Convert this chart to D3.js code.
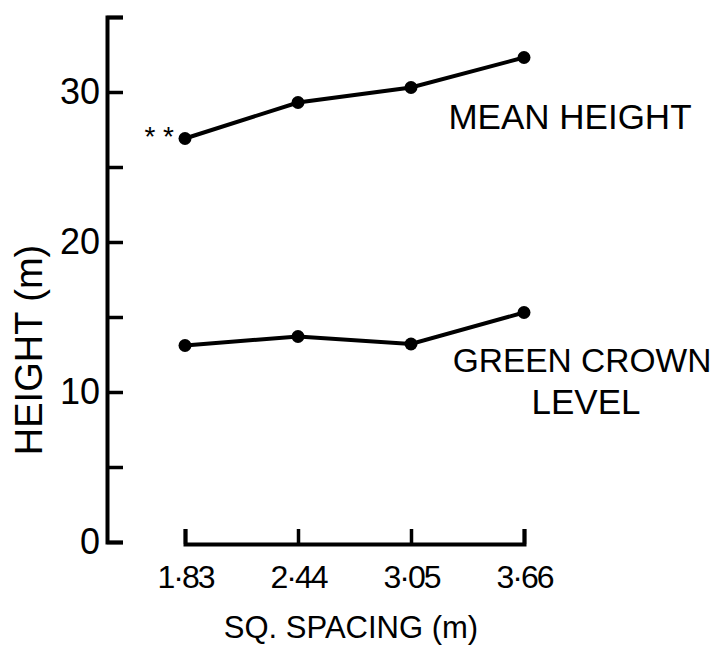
<!DOCTYPE html>
<html><head><meta charset="utf-8">
<script src="https://cdnjs.cloudflare.com/ajax/libs/d3/7.8.5/d3.min.js"></script>
<style>
body{margin:0;background:#fff;}
svg{display:block;font-family:"Liberation Sans",Arial,sans-serif;}
</style></head>
<body>
<script>
const spacings = [1.83, 2.44, 3.05, 3.66];
const spacingLabels = ["1·83", "2·44", "3·05", "3·66"];
const meanHeight = [26.9, 29.3, 30.3, 32.3];
const greenCrown = [13.1, 13.7, 13.2, 15.3];
const yTicks = [0, 5, 10, 15, 20, 25, 30, 35];
const yLabelTicks = [0, 10, 20, 30];

const W = 718, H = 646;
const svg = d3.select("body").append("svg").attr("width", W).attr("height", H);

const x = d3.scaleLinear().domain([1.83, 3.66]).range([185, 524]);
const y = d3.scaleLinear().domain([0, 35]).range([542, 17]);

// Y axis
const yAxis = d3.axisLeft(y).tickValues(yTicks).tickSizeInner(-16).tickSizeOuter(-16).tickPadding(7)
  .tickFormat(d => yLabelTicks.includes(d) ? d3.format("d")(d) : "");
const gy = svg.append("g").attr("transform", "translate(107,0)").call(yAxis);
gy.select(".domain").attr("stroke", "#000").attr("stroke-width", 4).attr("fill", "none");
gy.selectAll(".tick line").attr("stroke", "#000").attr("stroke-width", 3.5);
gy.selectAll(".tick text").attr("font-size", 36).attr("fill", "#000").attr("font-family", "Liberation Sans, Arial, sans-serif");

// X axis
const xAxis = d3.axisBottom(x).tickValues(spacings).tickSizeInner(-15).tickSizeOuter(-15).tickPadding(21)
  .tickFormat((d, i) => spacingLabels[i]);
const gx = svg.append("g").attr("transform", "translate(0,544)").call(xAxis);
gx.select(".domain").attr("stroke", "#000").attr("stroke-width", 4).attr("fill", "none");
gx.selectAll(".tick line").attr("stroke", "#000").attr("stroke-width", 3.5);
gx.selectAll(".tick text").attr("font-size", 32).attr("fill", "#000").attr("letter-spacing", -2)
  .attr("font-family", "Liberation Sans, Arial, sans-serif");

// Axis titles
svg.append("text").attr("x", 351).attr("y", 638).attr("text-anchor", "middle")
  .attr("font-size", 31).text("SQ. SPACING (m)");
svg.append("text").attr("transform", "translate(42,350) rotate(-90)").attr("text-anchor", "middle")
  .attr("font-size", 38).text("HEIGHT (m)");

// Lines
const line = d3.line().x((d, i) => x(spacings[i])).y(d => y(d));
[meanHeight, greenCrown].forEach(series => {
  svg.append("path").datum(series).attr("d", line).attr("fill", "none")
    .attr("stroke", "#000").attr("stroke-width", 4);
  svg.selectAll(null).data(series).enter().append("circle")
    .attr("cx", (d, i) => x(spacings[i])).attr("cy", d => y(d)).attr("r", 6.5).attr("fill", "#000");
});

// Significance marker
svg.append("text").attr("x", 174).attr("y", 146).attr("text-anchor", "end")
  .attr("font-size", 28).text("* *");

// Series labels
svg.append("text").attr("x", 570).attr("y", 129).attr("text-anchor", "middle").attr("font-size", 35).text("MEAN HEIGHT");
svg.append("text").attr("x", 582).attr("y", 372).attr("text-anchor", "middle").attr("font-size", 33.5).text("GREEN CROWN");
svg.append("text").attr("x", 586).attr("y", 414).attr("text-anchor", "middle").attr("font-size", 35).text("LEVEL");
</script>
</body></html>
